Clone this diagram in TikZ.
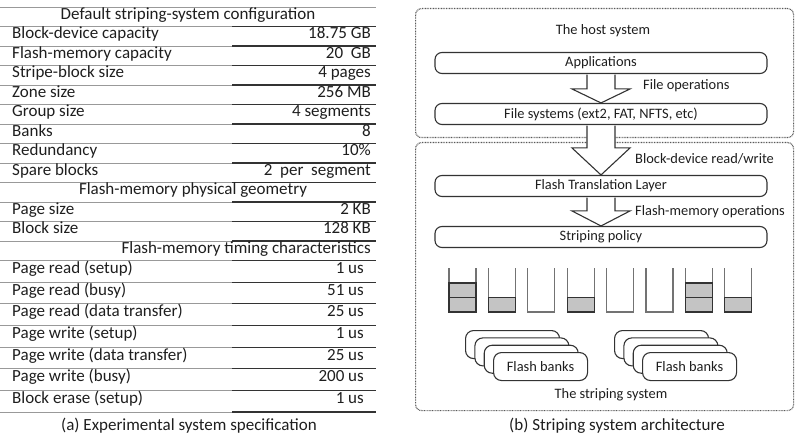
\documentclass[tikz,border=0pt]{standalone}
\usepackage{fontspec}
\setmainfont{Carlito}
\usetikzlibrary{calc}

\definecolor{ink}{HTML}{1E1E1E}
\definecolor{cellgray}{HTML}{C4C4C4}

% hollow block arrow between two layers: from, to, head length
\newcommand{\layerflow}[3]{%
  \draw[flowarrow] ($(#1.south)+(-14,0.6)$) -- ($(#2.north)+(-14,-#3)$)
    -- ($(#2.north)+(-29,-#3)$) -- (#2.north) -- ($(#2.north)+(29,-#3)$)
    -- ($(#2.north)+(14,-#3)$) -- ($(#1.south)+(14,0.6)$);}

\begin{document}
\begin{tikzpicture}[
    x=1pt, y=-1pt,
    % y of the k-th table rule; timing rows are a bit taller
    declare function={ruley(\k)=(\k<=13)*(7+19.5*\k)+(\k>13)*(260.5+21.64*(\k-13));
                      rowy(\k)=(ruley(\k)+ruley(\k+1))/2;},
    every node/.style={text=ink},
    tbl/.style={font=\fontsize{17}{20}\selectfont, inner sep=0pt},
    lbl/.style={font=\fontsize{14.4}{17}\selectfont, inner sep=0pt},
    rulegray/.style={draw=black!40, line width=0.9pt},
    ruledark/.style={draw=black!80, line width=1.1pt},
    sysbox/.style={draw=black!65, line width=1.2pt, dash pattern=on 0.8pt off 0.8pt, rounded corners=6pt},
    layer/.style={lbl, draw=black!80, line width=1.1pt, rounded corners=7pt, minimum width=332pt, minimum height=21pt},
    flowarrow/.style={draw=black!80, line width=1.1pt, fill=white, line join=miter},
    bucket/.style={draw=black!55, line width=1.1pt},
    cell/.style={draw=black!80, line width=1.2pt, fill=cellgray},
    bank/.style={lbl, draw=black!80, line width=1.1pt, rounded corners=8pt, fill=white, minimum width=94pt, minimum height=28pt}
]
\useasboundingbox (0,0) rectangle (796,441);

% ---- (a) spec table ----
\draw[rulegray] (0,7) -- (376,7);
\foreach \r in {1,...,20} {
  \draw[rulegray] (0,{ruley(\r)}) -- (376,{ruley(\r)});
  \draw[ruledark] (232,{ruley(\r)}) -- (376,{ruley(\r)});
}

% section headings
\node[tbl, anchor=mid] (cfg) at (188,{rowy(0)}) {Default striping-system configuration};
\node[tbl, anchor=mid] (geom) at (193,{rowy(9)}) {Flash-memory physical geometry};
\node[tbl, anchor=mid east] (timing) at (371,{rowy(12)}) {Flash-memory timing characteristics};

% rows: index / parameter / value / right edge
\foreach \r/\lbltxt/\valtxt/\vx in {
    1/Block-device capacity/18.75 GB/371,
    2/Flash-memory capacity/20\ \ GB/371,
    3/Stripe-block size/4 pages/371,
    4/Zone size/256 MB/371,
    5/Group size/4 segments/371,
    6/Banks/8/371,
    7/Redundancy/10\%/371,
    8/Spare blocks/2\ \ per\ \ segment/371,
    10/Page size/2 KB/371,
    11/Block size/128 KB/371,
    13/Page read (setup)/1 us/364,
    14/Page read (busy)/51 us/364,
    15/Page read (data transfer)/25 us/364,
    16/Page write (setup)/1 us/364,
    17/Page write (data transfer)/25 us/364,
    18/Page write (busy)/200 us/364,
    19/Block erase (setup)/1 us/364} {
  \node[tbl, anchor=mid west] (key\r) at (12,{rowy(\r)}) {\lbltxt};
  \node[tbl, anchor=mid east] (val\r) at (\vx,{rowy(\r)}) {\valtxt};
}

\node[tbl, anchor=mid] (capA) at (189,428) {(a) Experimental system specification};

% ---- (b) architecture ----
\node[sysbox, minimum width=378pt, minimum height=129pt, anchor=north west] (host) at (415,8) {};
\node[sysbox, minimum width=378pt, minimum height=268pt, anchor=north west] (striping) at (415,142) {};
\node[lbl, anchor=mid] (hostlbl) at (603,32) {The host system};

% layers
\node[layer] (app) at (601,63) {Applications};
\node[layer] (fs) at (601,114) {File systems (ext2, FAT, NFTS, etc)};
\node[layer] (ftl) at (601,186) {Flash Translation Layer};
\node[layer] (policy) at (601,237) {Striping policy};

\layerflow{app}{fs}{14}
\layerflow{fs}{ftl}{27}
\layerflow{ftl}{policy}{15}

\node[lbl, anchor=mid west] (fileops) at (643,87) {File operations};
\node[lbl, anchor=mid west] (bdrw) at (635,161) {Block-device read/write};
\node[lbl, anchor=mid west] (fmops) at (635,213) {Flash-memory operations};

% stripe buckets, filled cells per bank
\foreach \n [count=\i from 0] in {2,1,0,1,0,0,2,1} {
  \pgfmathsetmacro\bx{449+39.4*\i}
  \draw[bucket] (\bx,268) -- (\bx,312) -- ({\bx+27},312) -- ({\bx+27},268);
  \foreach \k in {1,2} {
    \ifnum\k>\n\else
      \draw[cell] (\bx,{312-14.5*\k}) rectangle ({\bx+27},{312-14.5*(\k-1)});
    \fi
  }
}

% flash bank stacks
\foreach \sx/\tag in {493/A, 642/B} {
  \foreach \k in {3,2,1} {
    \node[bank, anchor=north west] (bank\tag\k) at ({\sx-9.33*\k},{352-7.33*\k}) {};
  }
  \node[bank, anchor=north west] (bank\tag) at (\sx,352) {Flash banks};
}

\node[lbl, anchor=mid] (stripelbl) at (611,396) {The striping system};
\node[tbl, anchor=mid] (capB) at (617,428) {(b) Striping system architecture};

\end{tikzpicture}
\end{document}
